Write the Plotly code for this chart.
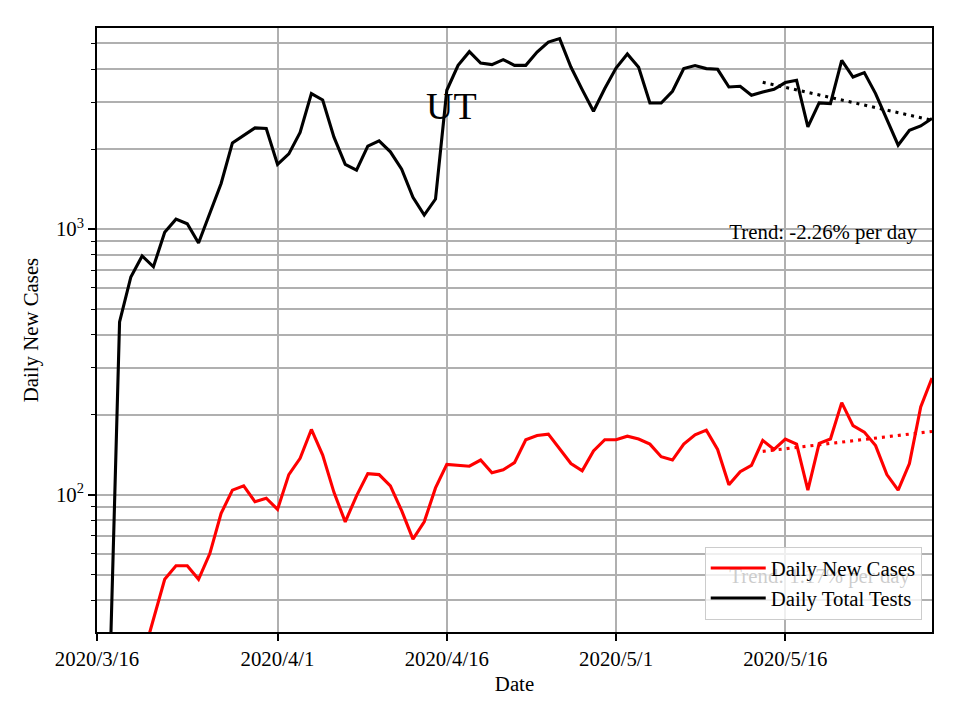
import numpy as np
import pandas as pd
import plotly.graph_objects as go

# ---- data ----
tests_start = "2020-03-17"
daily_tests = [13, 447, 660, 792, 721, 972, 1090, 1047, 886, 1139,
               1485, 2110, 2256, 2403, 2391, 1751, 1919, 2310, 3237, 3063,
               2218, 1751, 1667, 2051, 2148, 1953, 1681, 1316, 1129, 1297,
               3331, 4135, 4656, 4219, 4161, 4345, 4135, 4135, 4640, 5059,
               5212, 4075, 3351, 2777, 3381, 4040, 4560, 4064, 2984, 2984,
               3303, 4019, 4125, 4019, 3995, 3428, 3449, 3190, 3283, 3360,
               3561, 3633, 2424, 2984, 2969, 4318, 3737, 3882, 3237, 2568,
               2069, 2356, 2445, 2608]

cases_start = "2020-03-20"
daily_cases = [24, 34, 48, 54, 54, 48, 60, 85, 104, 108,
               94, 97, 88, 119, 137, 176, 141, 102, 79, 99,
               120, 119, 108, 87, 68, 79, 106, 130, 129, 128,
               135, 121, 124, 132, 161, 167, 169, 149, 131, 123,
               146, 161, 161, 166, 162, 155, 139, 135, 155, 168,
               175, 148, 109, 122, 129, 160, 148, 162, 155, 104,
               156, 162, 222, 182, 172, 153, 119, 104, 131, 214,
               275]

trend_dates = ["2020-05-14", "2020-05-29"]
tests_trend = [3570, 2570]
cases_trend = [145.5, 173]

tick_dates = ["2020-03-16", "2020-04-01", "2020-04-16", "2020-05-01", "2020-05-16"]
tick_labels = ["2020/3/16", "2020/4/1", "2020/4/16", "2020/5/1", "2020/5/16"]
x_range = ["2020-03-16", "2020-05-29"]
y_range = [30.4, 5715]

trend_labels = ["Trend: -2.26% per day", "Trend: 1.17% per day"]
trend_label_y = [960, 48.7]
trend_label_x = "2020-05-11 01:00"

state = "UT"
state_x = "2020-04-16 10:30"
state_y = 2900

# ---- figure ----
FONT = "Liberation Serif"
FS = 20.8
tests_dates = pd.date_range(tests_start, periods=len(daily_tests), freq="D")
cases_dates = pd.date_range(cases_start, periods=len(daily_cases), freq="D")

fig = go.Figure()
fig.add_trace(go.Scatter(x=cases_dates, y=daily_cases, mode="lines",
                         name="Daily New Cases", line=dict(color="red", width=3.1),
                         legendgroup="a"))
fig.add_trace(go.Scatter(x=tests_dates, y=daily_tests, mode="lines",
                         name="Daily Total Tests", line=dict(color="black", width=3.1),
                         legendgroup="b"))
fig.add_trace(go.Scatter(x=trend_dates, y=cases_trend, mode="lines", showlegend=False,
                         line=dict(color="red", width=3.1, dash="3px,5px")))
fig.add_trace(go.Scatter(x=trend_dates, y=tests_trend, mode="lines", showlegend=False,
                         line=dict(color="black", width=3.1, dash="3px,5px")))
fig.add_trace(go.Scatter(x=[trend_label_x, trend_label_x], y=trend_label_y, mode="text",
                         text=trend_labels, textposition="middle right", showlegend=False,
                         textfont=dict(family=FONT, size=FS, color="black"),
                         hoverinfo="skip"))

minor_vals = [v * m for v in (10, 100, 1000) for m in range(2, 10)]

fig.update_layout(
    width=960, height=720,
    margin=dict(l=97, r=28, t=28, b=88),
    paper_bgcolor="white", plot_bgcolor="white",
    font=dict(family=FONT, size=FS, color="black"),
    showlegend=True,
    legend=dict(x=0.9877, y=0.02, xanchor="right", yanchor="bottom",
                bgcolor="rgba(255,255,255,0.8)", bordercolor="#cccccc", borderwidth=1,
                font=dict(family=FONT, size=FS, color="black"),
                tracegroupgap=0, traceorder="grouped", itemwidth=55),
    xaxis=dict(type="date", range=x_range, tickvals=tick_dates, ticktext=tick_labels,
               showgrid=True, gridcolor="#b0b0b0", gridwidth=1.6,
               showline=True, linecolor="black", linewidth=1.6, mirror=True,
               ticks="outside", ticklen=7, tickwidth=1.6, tickcolor="black",
               zeroline=False,
               title=dict(text="Date", font=dict(family=FONT, size=FS), standoff=8)),
    yaxis=dict(type="log", range=[np.log10(y_range[0]), np.log10(y_range[1])],
               tickvals=[100, 1000], ticktext=["10<sup>2</sup>", "10<sup>3</sup>"],
               showgrid=True, gridcolor="#b0b0b0", gridwidth=1.6,
               showline=True, linecolor="black", linewidth=1.6, mirror=True,
               ticks="outside", ticklen=7, tickwidth=1.6, tickcolor="black",
               zeroline=False,
               minor=dict(tickvals=minor_vals, ticks="outside", ticklen=4, tickwidth=1.2,
                          tickcolor="black", showgrid=True, gridcolor="#b0b0b0", gridwidth=1.6),
               title=dict(text="Daily New Cases", font=dict(family=FONT, size=FS), standoff=12)),
    annotations=[dict(text=state, xref="x", yref="y", x=state_x, y=np.log10(state_y),
                      showarrow=False, xanchor="center", yanchor="middle",
                      font=dict(family=FONT, size=38, color="black"))],
)

fig.write_html("out.html", config={"displayModeBar": False},
               post_script="document.body.style.margin='0';")
